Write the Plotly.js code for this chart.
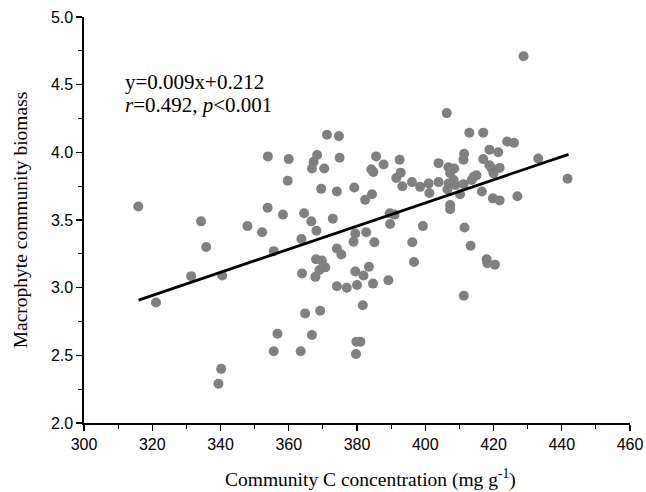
<!DOCTYPE html>
<html>
<head>
<meta charset="utf-8">
<script src="https://cdn.plot.ly/plotly-3.0.1.min.js"></script>
<style>html,body{margin:0;padding:0;background:#fff;}#chart{width:646px;height:492px;}</style>
</head>
<body>
<div id="chart"></div>
<script>
// Community C concentration (mg g-1)
const carbonC = [
  315.9, 321.1, 331.4, 334.3, 335.8, 339.4, 340.2, 340.5, 347.9, 352.2,
  353.8, 353.9, 355.6, 355.6, 356.7, 358.3, 359.7, 360.0, 363.5, 363.7,
  363.9, 364.5, 364.8, 366.6, 366.8, 366.8, 367.3, 368.3, 368.1, 367.8,
  368.0, 369.0, 369.7, 370.7, 369.2, 369.5, 370.4, 371.2, 372.9, 374.1,
  374.1, 374.1, 374.7, 374.9, 375.4, 377.0, 379.2, 379.5, 379.0, 379.5,
  380.0, 379.8, 381.0, 379.7, 381.7, 381.9, 382.7, 382.4, 383.5, 384.4,
  384.2, 384.8, 384.7, 385.1, 385.6, 387.8, 389.2, 389.6, 391.0, 389.7,
  391.5, 392.5, 392.8, 393.3, 396.1, 396.2, 396.7, 398.5, 399.3, 401.0,
  401.2, 403.9, 403.9, 406.3, 406.8, 408.5, 407.3, 408.3, 406.8, 408.8,
  406.5, 407.3, 407.3, 410.2, 411.2, 411.4, 411.2, 411.5, 411.3, 412.9,
  413.3, 413.6, 414.2, 415.0, 416.6, 417.0, 417.0, 418.0, 418.2, 418.8,
  418.8, 419.5, 420.0, 420.4, 421.4, 421.8, 419.8, 421.8, 424.0, 426.0,
  427.0, 428.8, 433.1, 441.7
];
// Macrophyte community biomass
const biomass = [
  3.60, 2.89, 3.085, 3.49, 3.30, 2.29, 2.40, 3.09, 3.455, 3.41,
  3.59, 3.97, 3.27, 2.53, 2.66, 3.54, 3.79, 3.95, 2.53, 3.36,
  3.105, 3.55, 2.81, 3.49, 2.65, 3.88, 3.93, 3.98, 3.42, 3.08,
  3.21, 3.13, 3.20, 3.15, 2.83, 3.73, 3.88, 4.13, 3.51, 3.71,
  3.29, 3.01, 4.12, 3.96, 3.245, 3.00, 3.74, 3.40, 3.34, 3.12,
  3.02, 2.60, 2.60, 2.51, 2.87, 3.09, 3.41, 3.65, 3.155, 3.69,
  3.875, 3.855, 3.03, 3.335, 3.97, 3.91, 3.055, 3.55, 3.54, 3.47,
  3.81, 3.945, 3.85, 3.75, 3.78, 3.335, 3.19, 3.745, 3.455, 3.77,
  3.70, 3.78, 3.92, 4.29, 3.89, 3.88, 3.845, 3.795, 3.77, 3.758,
  3.725, 3.61, 3.58, 3.69, 3.765, 3.99, 3.945, 3.445, 2.94, 4.145,
  3.31, 3.795, 3.82, 3.83, 3.71, 4.145, 3.95, 3.21, 3.18, 4.02,
  3.905, 3.88, 3.845, 3.17, 4.00, 3.885, 3.66, 3.645, 4.08, 4.07,
  3.675, 4.71, 3.955, 3.805
];
// Fitted regression line as drawn (end points)
const fitX = [316, 442];
const fitY = [2.908, 3.985];

const xTicks = [300, 320, 340, 360, 380, 400, 420, 440, 460];
const yTicks = [2.0, 2.5, 3.0, 3.5, 4.0, 4.5, 5.0];
const yTickText = ['2.0', '2.5', '3.0', '3.5', '4.0', '4.5', '5.0'];

const serif = 'Liberation Serif, Times New Roman, serif';
const sans = 'Liberation Sans, Arial, sans-serif';

const traces = [
  {
    x: carbonC, y: biomass, type: 'scatter', mode: 'markers',
    marker: {color: '#808080', size: 10, line: {width: 0}},
    hoverinfo: 'skip'
  },
  {
    x: fitX, y: fitY, type: 'scatter', mode: 'lines',
    line: {color: '#000000', width: 2.8},
    hoverinfo: 'skip'
  }
];

const layout = {
  width: 646, height: 492,
  margin: {l: 84, r: 16, t: 17, b: 69, pad: 0},
  paper_bgcolor: '#ffffff', plot_bgcolor: '#ffffff',
  showlegend: false,
  xaxis: {
    range: [300, 460], tickvals: xTicks, ticktext: xTicks.map(String),
    showgrid: false, zeroline: false,
    showline: true, linecolor: '#000', linewidth: 1.6, mirror: false,
    ticks: 'outside', ticklen: 6, tickwidth: 1.4, tickcolor: '#000',
    minor: {dtick: 10, tick0: 300, ticks: 'outside', ticklen: 4, tickwidth: 1.2, tickcolor: '#000', showgrid: false},
    tickfont: {family: sans, size: 16, color: '#000'}
  },
  yaxis: {
    range: [2.0, 5.0], tickvals: yTicks, ticktext: yTickText,
    showgrid: false, zeroline: false,
    showline: true, linecolor: '#000', linewidth: 1.6, mirror: false,
    ticks: 'outside', ticklen: 6, tickwidth: 1.4, tickcolor: '#000',
    minor: {dtick: 0.25, tick0: 2.0, ticks: 'outside', ticklen: 4, tickwidth: 1.2, tickcolor: '#000', showgrid: false},
    tickfont: {family: sans, size: 16, color: '#000'},
    title: {text: 'Macrophyte community biomass', font: {family: serif, size: 19.5, color: '#000'}, standoff: 18}
  },
  annotations: [
    {xref: 'paper', yref: 'paper', x: 0.0714, y: 0.8405, xanchor: 'left', yanchor: 'middle',
     text: 'y=0.009x+0.212', showarrow: false, font: {family: serif, size: 21, color: '#000'}},
    {xref: 'paper', yref: 'paper', x: 0.0714, y: 0.783, xanchor: 'left', yanchor: 'middle',
     text: '<i>r</i>=0.492, <i>p</i><0.001', showarrow: false, font: {family: serif, size: 21, color: '#000'}},
    {xref: 'paper', yref: 'paper', x: 0.524, y: -0.136, xanchor: 'center', yanchor: 'middle',
     text: 'Community C concentration (mg g<sup>-1</sup>)', showarrow: false, font: {family: serif, size: 19.5, color: '#000'}}
  ]
};

Plotly.newPlot('chart', traces, layout, {displayModeBar: false, staticPlot: true});
</script>
</body>
</html>
